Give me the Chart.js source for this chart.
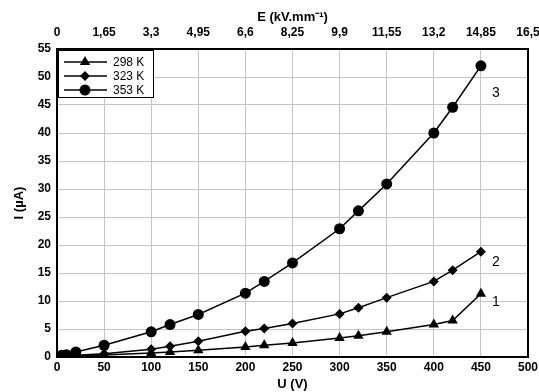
<!DOCTYPE html>
<html>
<head>
<meta charset="utf-8">
<script src="https://cdn.jsdelivr.net/npm/chart.js@4.4.1/dist/chart.umd.min.js"></script>
<style>
  html, body { margin: 0; padding: 0; background: #fff; }
  #wrap { width: 539px; height: 392px; }
</style>
</head>
<body>
<div id="wrap"><canvas id="ivChart" width="539" height="392"></canvas></div>
<script>
// U (V)
const voltages = [5, 10, 20, 50, 100, 120, 150, 200, 220, 250, 300, 320, 350, 400, 420, 450];
// I (µA)
const current298 = [0.05, 0.1, 0.2, 0.35, 0.7, 0.9, 1.2, 1.8, 2.1, 2.5, 3.4, 3.8, 4.5, 5.8, 6.5, 11.3];
const current323 = [0.1, 0.15, 0.3, 0.6, 1.4, 1.9, 2.8, 4.6, 5.1, 6.0, 7.7, 8.8, 10.6, 13.5, 15.5, 18.8];
const current353 = [0.3, 0.4, 0.9, 2.1, 4.5, 5.8, 7.6, 11.4, 13.5, 16.8, 22.9, 26.1, 30.9, 40.0, 44.6, 52.0];
const seriesNames = ["298 K", "323 K", "353 K"];
const curveTags = ["1", "2", "3"];
const tagX = 466;
const tagY = [9.8, 17, 47.1];
// top axis E (kV.mm-1)
const fieldTicks = [0, 1.65, 3.3, 4.95, 6.6, 8.25, 9.9, 11.55, 13.2, 14.85, 16.5];

const ctx = document.getElementById("ivChart").getContext("2d");
const FONT = "'Liberation Sans', Arial, sans-serif";
const tickFont = { family: FONT, size: 12, weight: "bold" };
const titleFont = { family: FONT, size: 13, weight: "bold" };
const pointStyles = ["triangle", "rectRot", "circle"];
const pointSizes = [6, 5, 5.5];

function toPoints(ys) {
    return voltages.map((u, i) => ({ x: u, y: ys[i] }));
}

// keep tick labels from shrinking the plot area
function noOverflow(s) {
    s.paddingLeft = 0;
    s.paddingRight = 0;
    s.paddingTop = 0;
    s.paddingBottom = 0;
}

const datasets = [current298, current323, current353].map((ys, i) => ({
    label: seriesNames[i],
    data: toPoints(ys),
    borderColor: "#000",
    backgroundColor: "#000",
    borderWidth: 1.5,
    pointStyle: pointStyles[i],
    pointRadius: pointSizes[i],
    pointBorderWidth: 0,
    tension: 0,
    xAxisID: "x",
    yAxisID: "y"
}));

const framePlugin = {
    id: "frame",
    afterDraw(chart) {
        const c = chart.ctx;
        const a = chart.chartArea;
        c.save();
        c.strokeStyle = "#000";
        c.lineWidth = 2;
        c.strokeRect(a.left, a.top, a.right - a.left, a.bottom - a.top);

        // curve numbers
        c.fillStyle = "#000";
        c.font = "14px " + FONT;
        c.textAlign = "center";
        c.textBaseline = "middle";
        curveTags.forEach((t, i) => {
            c.fillText(t, chart.scales.x.getPixelForValue(tagX), chart.scales.y.getPixelForValue(tagY[i]));
        });

        // legend box
        const lx = a.left + 1, ly = a.top + 1, lw = 96, lh = 48;
        c.fillStyle = "#fff";
        c.fillRect(lx, ly, lw, lh);
        c.lineWidth = 1;
        c.strokeRect(lx + 0.5, ly + 0.5, lw - 1, lh - 1);
        c.font = "12px " + FONT;
        c.textAlign = "left";
        seriesNames.forEach((name, i) => {
            const yy = ly + 12 + i * 14;
            c.strokeStyle = "#000";
            c.lineWidth = 1.5;
            c.beginPath();
            c.moveTo(lx + 6, yy);
            c.lineTo(lx + 49, yy);
            c.stroke();
            c.fillStyle = "#000";
            Chart.helpers.drawPoint(c, { pointStyle: pointStyles[i], radius: pointSizes[i], borderWidth: 0 }, lx + 27, yy);
            c.fillText(name, lx + 55, yy + 1);
        });
        c.restore();
    }
};

new Chart(ctx, {
    type: "line",
    data: { datasets },
    options: {
        responsive: false,
        animation: false,
        layout: { padding: { left: 12, right: 11, top: 0, bottom: 0 } },
        plugins: { legend: { display: false }, tooltip: { enabled: false } },
        scales: {
            x: {
                type: "linear",
                position: "bottom",
                min: 0,
                max: 500,
                ticks: { stepSize: 50, color: "#000", font: tickFont, padding: 3 },
                grid: { color: "#c4c4c4", lineWidth: 1, drawTicks: false },
                border: { display: false },
                title: { display: true, text: "U (V)", color: "#000", font: titleFont, padding: { top: 2, bottom: 0 } },
                afterFit(s) { s.height = 35; noOverflow(s); }
            },
            x2: {
                type: "linear",
                position: "top",
                min: 0,
                max: 16.5,
                afterBuildTicks(s) { s.ticks = fieldTicks.map(v => ({ value: v })); },
                ticks: {
                    color: "#000",
                    font: tickFont,
                    padding: 9,
                    callback: v => String(+v.toFixed(2)).replace(".", ",")
                },
                grid: { display: false, drawTicks: false },
                border: { display: false },
                title: { display: true, text: "E (kV.mm\u207B\u00B9)", color: "#000", font: titleFont, padding: { top: 10, bottom: 1 } },
                afterFit(s) { s.height = 49; noOverflow(s); }
            },
            y: {
                type: "linear",
                min: 0,
                max: 55,
                ticks: { stepSize: 5, color: "#000", font: tickFont, padding: 6 },
                grid: { color: "#c4c4c4", lineWidth: 1, drawTicks: false },
                border: { display: false },
                title: { display: true, text: "I (\u00B5A)", color: "#000", font: titleFont, padding: 0 },
                afterFit(s) { s.width = 45; noOverflow(s); }
            }
        }
    },
    plugins: [framePlugin]
});
</script>
</body>
</html>
